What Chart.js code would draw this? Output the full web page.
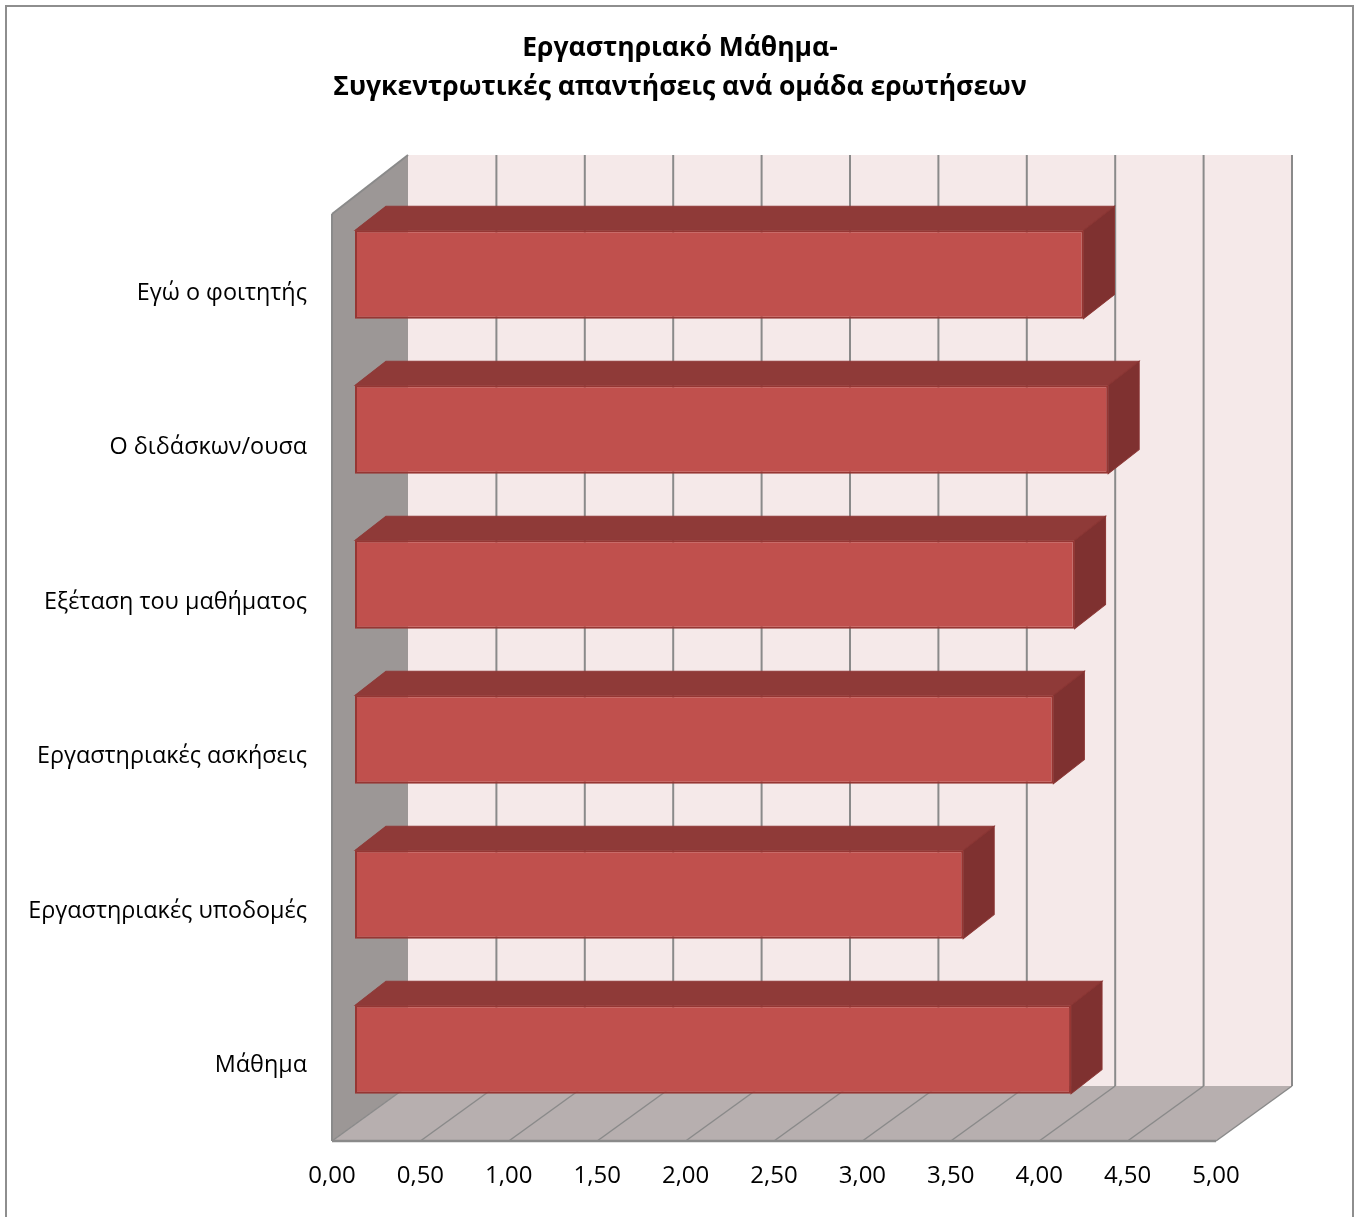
<!DOCTYPE html>
<html lang="el">
<head>
<meta charset="utf-8">
<title>Εργαστηριακό Μάθημα</title>
<script src="https://cdn.jsdelivr.net/npm/chart.js@4"></script>
<style>
  html, body { margin: 0; padding: 0; background: #fff; overflow: hidden; }
  canvas { display: block; }
</style>
</head>
<body>
<canvas id="chart" width="1360" height="1217"></canvas>
<script>
// Chart values
const categories = ["Εγώ ο φοιτητής", "Ο διδάσκων/ουσα", "Εξέταση του μαθήματος", "Εργαστηριακές ασκήσεις", "Εργαστηριακές υποδομές", "Μάθημα"];
const scores = [4.12, 4.26, 4.07, 3.95, 3.44, 4.05];
const tickLabels = ["0,00", "0,50", "1,00", "1,50", "2,00", "2,50", "3,00", "3,50", "4,00", "4,50", "5,00"];
const titleLines = ["Εργαστηριακό Μάθημα-", "Συγκεντρωτικές απαντήσεις ανά ομάδα ερωτήσεων"];

const FONT = "'Open Sans', 'Noto Sans', sans-serif";

// Depth of the fake 3D box around the plot, and of the bars inside it
const wallDx = 76, wallTopDy = -59, wallBottomDy = -55;
const barShiftX = 23, barShiftY = -17, barSpread = 1.0032;
const barDx = 31, barDy = -24;

function poly(ctx, pts, fill, stroke, lw) {
  ctx.beginPath();
  pts.forEach((p, i) => i ? ctx.lineTo(p[0], p[1]) : ctx.moveTo(p[0], p[1]));
  ctx.closePath();
  if (fill) { ctx.fillStyle = fill; ctx.fill(); }
  if (stroke) { ctx.strokeStyle = stroke; ctx.lineWidth = lw || 1; ctx.stroke(); }
}

function line(ctx, x1, y1, x2, y2, color, lw) {
  ctx.beginPath();
  ctx.moveTo(x1, y1);
  ctx.lineTo(x2, y2);
  ctx.strokeStyle = color;
  ctx.lineWidth = lw;
  ctx.stroke();
}

const box3d = {
  id: "box3d",
  afterLayout(chart) {
    // title is centred on the whole canvas, not on the padded area
    chart.titleBlock.left = 0;
    chart.titleBlock.right = chart.width;
    chart.titleBlock.width = chart.width;
  },
  beforeDraw(chart) {
    // outer chart frame, its bottom edge runs off the page
    const ctx = chart.ctx;
    ctx.save();
    ctx.strokeStyle = "#8e8e8e";
    ctx.lineWidth = 2;
    ctx.strokeRect(6, 6, 1347, 1300);
    ctx.restore();
  },
  beforeDatasetsDraw(chart) {
    const ctx = chart.ctx;
    const a = chart.chartArea;
    const xs = chart.scales.x;
    const backTop = a.top + wallTopDy, backBottom = a.bottom + wallBottomDy;
    ctx.save();

    // back wall, left wall, floor
    poly(ctx, [[a.left + wallDx, backTop], [a.right + wallDx, backTop],
               [a.right + wallDx, backBottom], [a.left + wallDx, backBottom]], "#f5e9e9");
    poly(ctx, [[a.left, a.top], [a.left + wallDx, backTop],
               [a.left + wallDx, backBottom], [a.left, a.bottom]], "#9c9796");
    poly(ctx, [[a.left, a.bottom], [a.left + wallDx, backBottom],
               [a.right + wallDx, backBottom], [a.right, a.bottom]], "#b7afaf");

    // grid lines go up the back wall and across the floor
    xs.ticks.forEach(t => {
      const px = xs.getPixelForValue(t.value);
      if (t.value > 0) line(ctx, px + wallDx, backTop, px + wallDx, backBottom, "#8a8a8a", 2);
      line(ctx, px, a.bottom, px + wallDx, backBottom, "#8a8a8a", 1.5);
    });

    // front edges of the box
    line(ctx, a.left, a.bottom, a.right, a.bottom, "#8a8a8a", 2.5);
    line(ctx, a.left, a.top, a.left, a.bottom, "#8a8a8a", 2);
    line(ctx, a.left, a.top, a.left + wallDx, backTop, "#8a8a8a", 2);

    // bars sit partway into the box, top and side faces go under the front
    ctx.translate(barShiftX, barShiftY + a.top);
    ctx.scale(1, barSpread);
    ctx.translate(0, -a.top);
    chart.getDatasetMeta(0).data.forEach(bar => {
      const b = bar.getProps(["x", "y", "base", "height"], true);
      const top = b.y - b.height / 2, bottom = b.y + b.height / 2;
      poly(ctx, [[b.base, top], [b.base + barDx, top + barDy], [b.x + barDx, top + barDy], [b.x, top]], "#8f3a38", "#8f3a38", 1);
      poly(ctx, [[b.x, top], [b.x + barDx, top + barDy], [b.x + barDx, bottom + barDy], [b.x, bottom]], "#7f3130", "#8a3533", 1);
    });
  },
  afterDatasetsDraw(chart) {
    chart.ctx.restore();
  }
};

new Chart(document.getElementById("chart"), {
  type: "bar",
  plugins: [box3d],
  data: {
    labels: categories,
    datasets: [{
      data: scores,
      backgroundColor: "#c0504d",
      borderColor: "#963633",
      borderWidth: 2,
      borderSkipped: false,
      barPercentage: 1,
      categoryPercentage: 0.57,
      clip: false
    }]
  },
  options: {
    indexAxis: "y",
    responsive: false,
    animation: false,
    layout: { padding: { top: 29, left: 0, right: 144, bottom: 0 } },
    plugins: {
      legend: { display: false },
      tooltip: { enabled: false },
      title: {
        display: true,
        text: titleLines,
        color: "#000",
        font: { family: FONT, size: 26.5, weight: "bold", lineHeight: 1.48 },
        padding: { top: 0, bottom: 106.6 }
      }
    },
    scales: {
      x: {
        min: 0,
        max: 5,
        grid: { display: false },
        border: { display: false },
        afterFit(scale) { scale.height = 76; },
        afterBuildTicks(scale) { scale.ticks = tickLabels.map((_, i) => ({ value: i * 0.5 })); },
        ticks: {
          padding: 13,
          color: "#000",
          font: { family: FONT, size: 24 },
          maxRotation: 0,
          autoSkip: false,
          callback: (v, i) => tickLabels[i]
        }
      },
      y: {
        grid: { display: false },
        border: { display: false },
        afterFit(scale) { scale.width = 332; },
        ticks: {
          padding: 17,
          labelOffset: 2,
          color: "#000",
          font: { family: FONT, size: 23.4 },
          autoSkip: false
        }
      }
    }
  }
});
</script>
</body>
</html>
